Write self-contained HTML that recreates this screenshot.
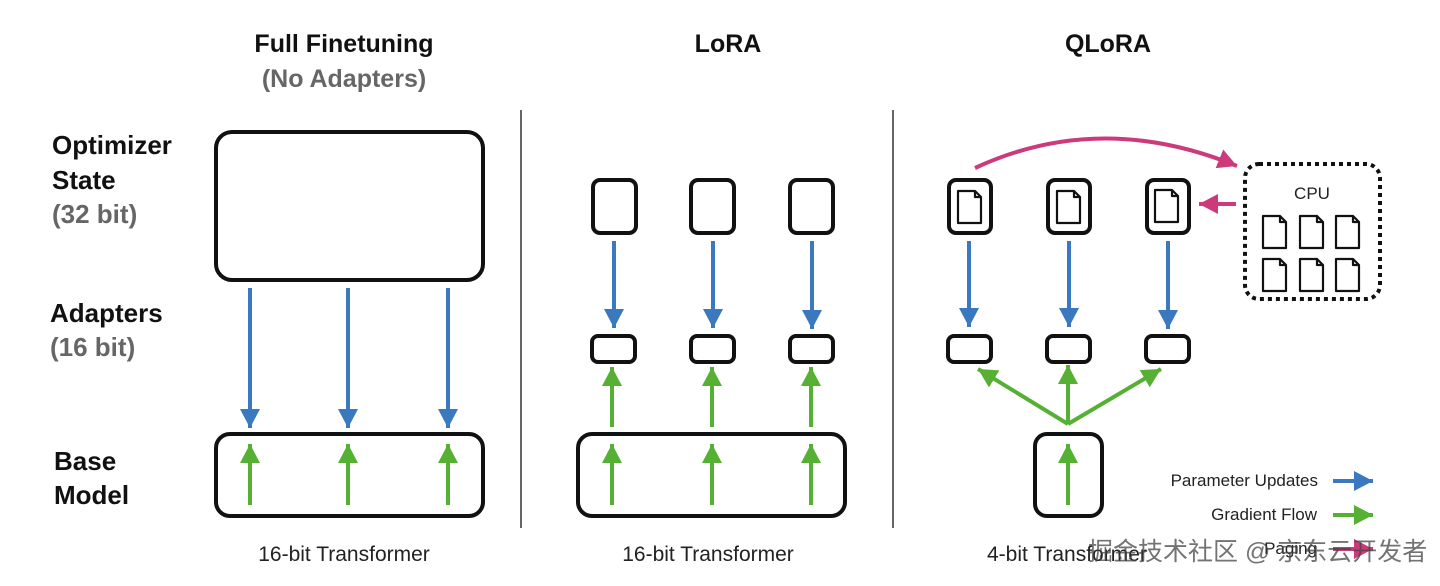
<!DOCTYPE html>
<html><head><meta charset="utf-8"><style>
html,body{margin:0;padding:0;background:#fff;}
svg{display:block;}
.h{font-family:"Liberation Sans",sans-serif;font-weight:bold;font-size:25px;fill:#111;}
.l{font-family:"Liberation Sans",sans-serif;font-weight:bold;font-size:26px;fill:#111;}
.g{fill:#666;}
.t{font-family:"Liberation Sans",sans-serif;font-size:21px;fill:#222;}
.s{font-family:"Liberation Sans",sans-serif;font-size:17px;fill:#222;}
.b{fill:none;stroke:#111;stroke-width:4;}
.bl{stroke:#3a78bf;stroke-width:4;fill:none;}
.gr{stroke:#56b033;stroke-width:4;fill:none;}
.pk{stroke:#cc3a7b;stroke-width:4;fill:none;}
</style></head><body>
<svg width="1440" height="586" viewBox="0 0 1440 586" xmlns="http://www.w3.org/2000/svg">
<defs>
<marker id="mb" markerUnits="userSpaceOnUse" markerWidth="22" markerHeight="22" refX="19" refY="10" orient="auto"><path d="M0,0 L19,10 L0,20 z" fill="#3a78bf"/></marker>
<marker id="mg" markerUnits="userSpaceOnUse" markerWidth="22" markerHeight="22" refX="19" refY="10" orient="auto"><path d="M0,0 L19,10 L0,20 z" fill="#56b033"/></marker>
<marker id="mp" markerUnits="userSpaceOnUse" markerWidth="22" markerHeight="22" refX="19" refY="10" orient="auto"><path d="M0,0 L19,10 L0,20 z" fill="#cc3a7b"/></marker>
<g id="doc"><path d="M0,0 H17 L23,6 V32 H0 Z M17,0 V6 H23" fill="none" stroke="#111" stroke-width="2.2" stroke-linejoin="round"/></g>
</defs>

<text class="h" x="344" y="52" text-anchor="middle">Full Finetuning</text>
<text class="h g" x="344" y="87" text-anchor="middle">(No Adapters)</text>
<text class="h" x="728" y="52" text-anchor="middle">LoRA</text>
<text class="h" x="1108" y="52" text-anchor="middle">QLoRA</text>

<text class="l" x="52" y="154">Optimizer</text>
<text class="l" x="52" y="189">State</text>
<text class="l g" x="52" y="223">(32 bit)</text>
<text class="l" x="50" y="322">Adapters</text>
<text class="l g" x="50" y="356">(16 bit)</text>
<text class="l" x="54" y="470">Base</text>
<text class="l" x="54" y="504">Model</text>

<line x1="521" y1="110" x2="521" y2="528" stroke="#333" stroke-width="1.5"/>
<line x1="893" y1="110" x2="893" y2="528" stroke="#333" stroke-width="1.5"/>

<rect class="b" x="216" y="132" width="267" height="148" rx="16"/>
<rect class="b" x="216" y="434" width="267" height="82" rx="14"/>
<line class="bl" x1="250" y1="288" x2="250" y2="428" marker-end="url(#mb)"/>
<line class="bl" x1="348" y1="288" x2="348" y2="428" marker-end="url(#mb)"/>
<line class="bl" x1="448" y1="288" x2="448" y2="428" marker-end="url(#mb)"/>
<line class="gr" x1="250" y1="505" x2="250" y2="444" marker-end="url(#mg)"/>
<line class="gr" x1="348" y1="505" x2="348" y2="444" marker-end="url(#mg)"/>
<line class="gr" x1="448" y1="505" x2="448" y2="444" marker-end="url(#mg)"/>
<text class="t" x="344" y="561" text-anchor="middle">16-bit Transformer</text>

<rect class="b" x="593" y="180" width="43" height="53" rx="7"/>
<rect class="b" x="691" y="180" width="43" height="53" rx="7"/>
<rect class="b" x="790" y="180" width="43" height="53" rx="7"/>
<line class="bl" x1="614" y1="241" x2="614" y2="328" marker-end="url(#mb)"/>
<line class="bl" x1="713" y1="241" x2="713" y2="328" marker-end="url(#mb)"/>
<line class="bl" x1="812" y1="241" x2="812" y2="329" marker-end="url(#mb)"/>
<rect class="b" x="592" y="336" width="43" height="26" rx="6"/>
<rect class="b" x="691" y="336" width="43" height="26" rx="6"/>
<rect class="b" x="790" y="336" width="43" height="26" rx="6"/>
<line class="gr" x1="612" y1="427" x2="612" y2="367" marker-end="url(#mg)"/>
<line class="gr" x1="712" y1="427" x2="712" y2="367" marker-end="url(#mg)"/>
<line class="gr" x1="811" y1="427" x2="811" y2="367" marker-end="url(#mg)"/>
<rect class="b" x="578" y="434" width="267" height="82" rx="14"/>
<line class="gr" x1="612" y1="505" x2="612" y2="444" marker-end="url(#mg)"/>
<line class="gr" x1="712" y1="505" x2="712" y2="444" marker-end="url(#mg)"/>
<line class="gr" x1="811" y1="505" x2="811" y2="444" marker-end="url(#mg)"/>
<text class="t" x="708" y="561" text-anchor="middle">16-bit Transformer</text>

<path class="pk" d="M975,168 Q1100,110 1237,166" marker-end="url(#mp)"/>
<rect class="b" x="949" y="180" width="42" height="53" rx="7"/>
<rect class="b" x="1048" y="180" width="42" height="53" rx="7"/>
<rect class="b" x="1147" y="180" width="42" height="53" rx="7"/>
<use href="#doc" x="958" y="191"/>
<use href="#doc" x="1057" y="191"/>
<use href="#doc" x="1155" y="190"/>
<line class="pk" x1="1236" y1="204" x2="1199" y2="204" marker-end="url(#mp)"/>
<line class="bl" x1="969" y1="241" x2="969" y2="327" marker-end="url(#mb)"/>
<line class="bl" x1="1069" y1="241" x2="1069" y2="327" marker-end="url(#mb)"/>
<line class="bl" x1="1168" y1="241" x2="1168" y2="329" marker-end="url(#mb)"/>
<rect class="b" x="948" y="336" width="43" height="26" rx="6"/>
<rect class="b" x="1047" y="336" width="43" height="26" rx="6"/>
<rect class="b" x="1146" y="336" width="43" height="26" rx="6"/>
<line class="gr" x1="1068" y1="424" x2="978" y2="369" marker-end="url(#mg)"/>
<line class="gr" x1="1068" y1="424" x2="1068" y2="365" marker-end="url(#mg)"/>
<line class="gr" x1="1068" y1="424" x2="1161" y2="369" marker-end="url(#mg)"/>
<rect class="b" x="1035" y="434" width="67" height="82" rx="12"/>
<line class="gr" x1="1068" y1="505" x2="1068" y2="444" marker-end="url(#mg)"/>
<text class="t" x="987" y="561">4-bit Transformer</text>

<rect x="1245" y="164" width="135" height="135" rx="14" fill="none" stroke="#111" stroke-width="4" stroke-dasharray="4,4"/>
<text class="s" x="1312" y="199" text-anchor="middle">CPU</text>
<use href="#doc" x="1263" y="216"/><use href="#doc" x="1300" y="216"/><use href="#doc" x="1336" y="216"/>
<use href="#doc" x="1263" y="259"/><use href="#doc" x="1300" y="259"/><use href="#doc" x="1336" y="259"/>

<text class="s" x="1318" y="486" text-anchor="end">Parameter Updates</text>
<line class="bl" x1="1333" y1="481" x2="1373" y2="481" marker-end="url(#mb)"/>
<text class="s" x="1317" y="520" text-anchor="end">Gradient Flow</text>
<line class="gr" x1="1333" y1="515" x2="1373" y2="515" marker-end="url(#mg)"/>
<text class="s" x="1317" y="554" text-anchor="end">Paging</text>
<line class="pk" x1="1333" y1="549" x2="1373" y2="549" marker-end="url(#mp)"/>

<text x="1088" y="560" font-family="'Liberation Sans','Noto Sans CJK SC',sans-serif" font-size="25" fill="#444" fill-opacity="0.75">掘金技术社区 @ 京东云开发者</text>
</svg>
</body></html>
